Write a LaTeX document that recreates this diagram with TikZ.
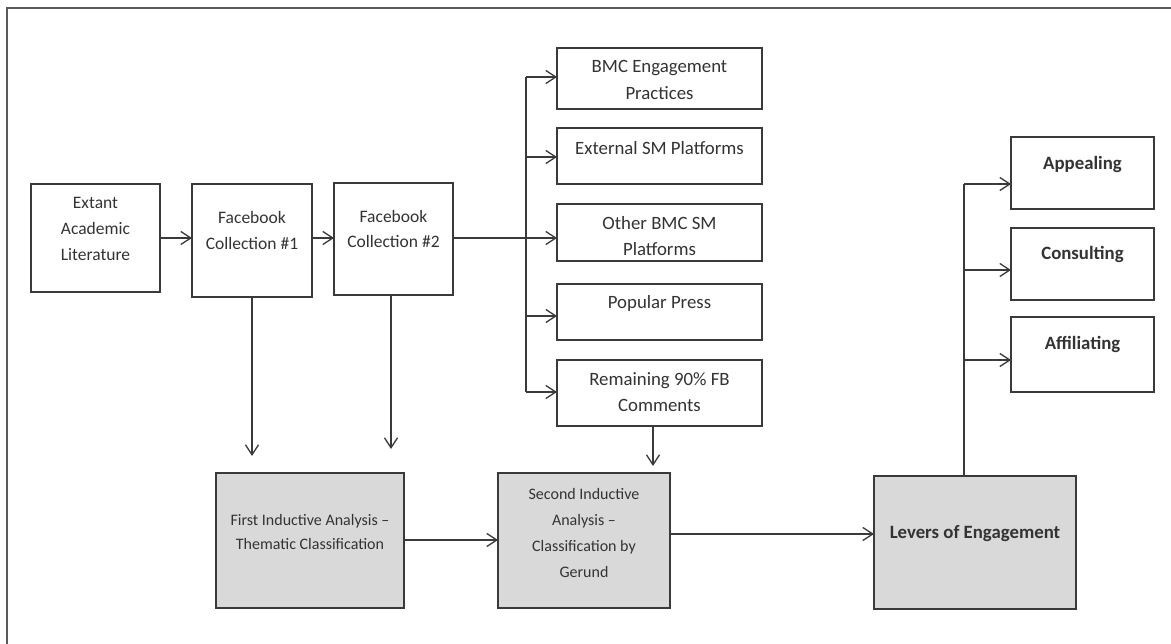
\documentclass[tikz,border=0pt]{standalone}
\usepackage{fontspec}
\setmainfont{Carlito}
\usetikzlibrary{arrows.meta}
\definecolor{linec}{HTML}{3A3A3A}
\definecolor{framec}{HTML}{5A5A5A}
\definecolor{textc}{HTML}{333333}
\definecolor{boxgray}{HTML}{D9D9D9}
\tikzset{
  box/.style={draw=linec, line width=1.4pt, fill=white, inner sep=0pt, outer sep=0pt, anchor=north west},
  gbox/.style={box, fill=boxgray},
  lbl/.style={align=center, inner sep=0pt, text=textc, font=\fontsize{18.8}{26.5}\selectfont},
  slbl/.style={lbl, font=\fontsize{17.5}{25.8}\selectfont},
  glbl/.style={lbl, font=\fontsize{16}{25}\selectfont},
  blbl/.style={lbl, font=\fontsize{18.8}{26.5}\selectfont\bfseries},
  arr/.style={draw=linec, line width=1.3pt, -{Straight Barb[length=10pt,width=13pt,line width=1.3pt]}},
  ln/.style={draw=linec, line width=1.3pt}
}
\begin{document}
\begin{tikzpicture}[x=1pt,y=-1pt]
\useasboundingbox (0,0) rectangle (1171,644);
\fill[white] (0,0) rectangle (1171,644);
% outer frame (only left and top edges visible)
\draw[draw=framec, line width=1.6pt] (7,644) -- (7,8) -- (1171,8);

% top row
\node[box, minimum width=129pt, minimum height=108pt] (ext) at (31,184) {};
\node[box, minimum width=120pt, minimum height=113pt] (fc1) at (192,184) {};
\node[box, minimum width=119pt, minimum height=112pt] (fc2) at (334,183) {};
\node[slbl] (t-ext) at (95.5,229) {Extant\\Academic\\Literature};
\node[slbl] (t-fc1) at (252,230.5) {Facebook\\Collection \#1};
\node[slbl] (t-fc2) at (393.5,229) {Facebook\\Collection \#2};

% sources column
\node[box, minimum width=205pt, minimum height=61pt] (bmc) at (557,48) {};
\node[box, minimum width=205pt, minimum height=56pt] (exsm) at (557,128) {};
\node[box, minimum width=205pt, minimum height=57pt] (oth) at (557,204) {};
\node[box, minimum width=205pt, minimum height=56pt] (pop) at (557,284) {};
\node[box, minimum width=205pt, minimum height=66pt] (rem) at (557,360) {};
\node[lbl] (t-bmc) at (659.5,80) {BMC Engagement\\Practices};
\node[lbl] (t-exsm) at (659.5,148.5) {External SM Platforms};
\node[lbl] (t-oth) at (659.5,236) {Other BMC SM\\Platforms};
\node[lbl] (t-pop) at (659.5,303.5) {Popular Press};
\node[lbl] (t-rem) at (659.5,392) {Remaining 90\% FB\\Comments};

% bottom row
\node[gbox, minimum width=188pt, minimum height=135pt] (first) at (216,473) {};
\node[gbox, minimum width=172pt, minimum height=135pt] (second) at (498,473) {};
\node[gbox, minimum width=202pt, minimum height=133pt] (lev) at (874,476) {};
\node[glbl, font=\fontsize{16}{24}\selectfont] (t-first) at (310,532.5) {First Inductive Analysis –\\Thematic Classification};
\node[glbl, font=\fontsize{16}{25.7}\selectfont] (t-second) at (584,533) {Second Inductive\\Analysis –\\Classification by\\Gerund};
\node[blbl] (t-lev) at (975,533.5) {Levers of Engagement};

% levers column
\node[box, minimum width=143pt, minimum height=72pt] (app) at (1011,137) {};
\node[box, minimum width=143pt, minimum height=72pt] (con) at (1011,228) {};
\node[box, minimum width=143pt, minimum height=75pt] (aff) at (1011,317) {};
\node[blbl] (t-app) at (1082.5,164.5) {Appealing};
\node[blbl] (t-con) at (1082.5,254.5) {Consulting};
\node[blbl] (t-aff) at (1082.5,344.5) {Affiliating};

% helper coordinates
\coordinate (r0) at (160,238);
\coordinate (j1) at (526,77);
\coordinate (j2) at (526,157);
\coordinate (j3) at (526,238);
\coordinate (j4) at (526,316);
\coordinate (j5) at (526,392);
\coordinate (d1) at (252,456);
\coordinate (d2) at (391,449);
\coordinate (s3) at (653,426);
\coordinate (d3) at (653,466);
\coordinate (h1) at (404,540);
\coordinate (h2) at (670,534);
\coordinate (lt) at (964,476);
\coordinate (k1) at (964,184);
\coordinate (k2) at (964,270);
\coordinate (k3) at (964,360);

% connectors
\draw[arr] (ext.east |- r0) -- (fc1.west |- r0);
\draw[arr] (fc1.east |- r0) -- (fc2.west |- r0);
\draw[ln] (fc2.east |- r0) -- (j3);
\draw[ln] (j1) -- (j5);
\draw[arr] (j1) -- (bmc.west |- j1);
\draw[arr] (j2) -- (exsm.west |- j2);
\draw[arr] (j3) -- (oth.west |- j3);
\draw[arr] (j4) -- (pop.west |- j4);
\draw[arr] (j5) -- (rem.west |- j5);
\draw[arr] (fc1.south) -- (d1);
\draw[arr] (fc2.south -| d2) -- (d2);
\draw[arr] (s3) -- (d3);
\draw[arr] (h1) -- (second.west |- h1);
\draw[arr] (h2) -- (lev.west |- h2);
\draw[ln] (lt) -- (k1);
\draw[arr] (k1) -- (app.west |- k1);
\draw[arr] (k2) -- (con.west |- k2);
\draw[arr] (k3) -- (aff.west |- k3);
\end{tikzpicture}
\end{document}
